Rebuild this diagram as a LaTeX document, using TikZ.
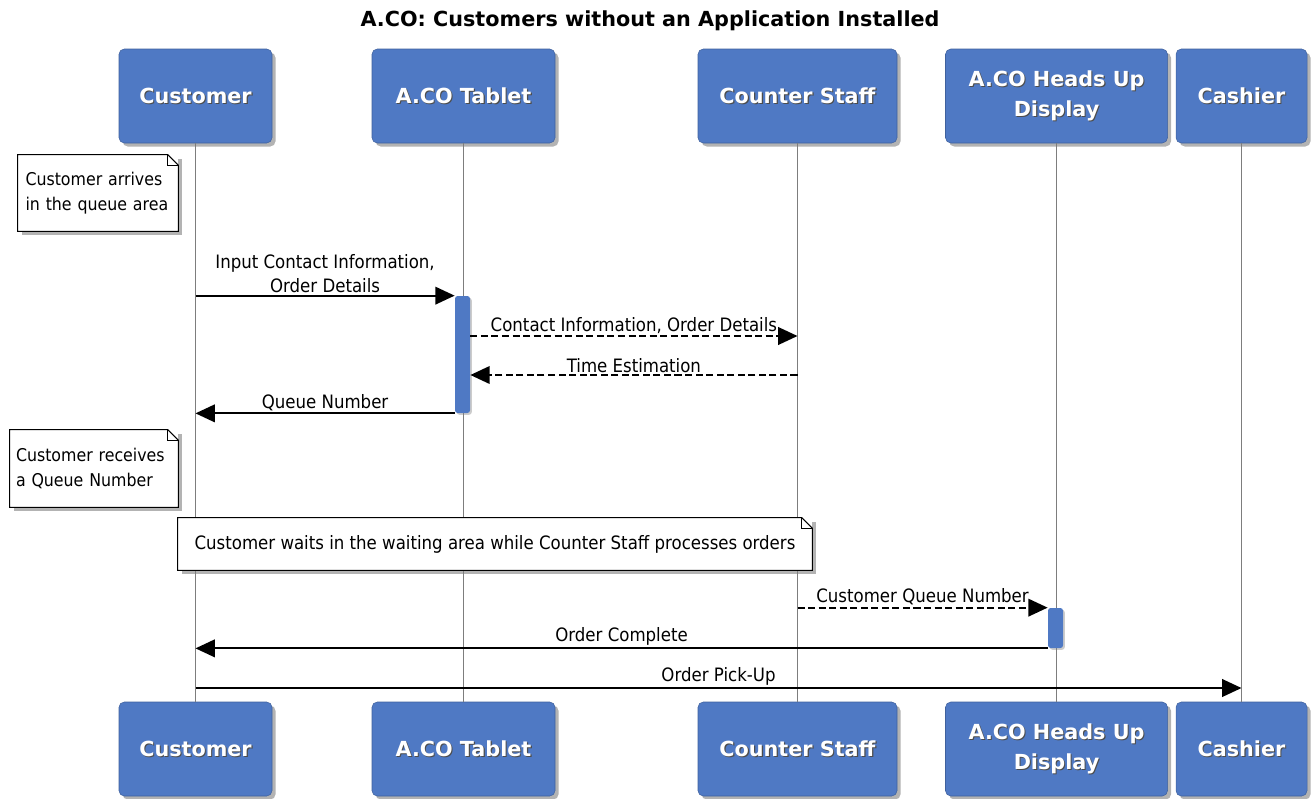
\documentclass[tikz,border=0pt]{standalone}
\usepackage{fontspec}
\setmainfont{DejaVu Sans}
\newfontfamily\labelfont{DejaVu Sans Condensed}
\usepackage{tikz}
\usetikzlibrary{positioning,arrows.meta,calc,shadows}

\definecolor{boxblue}{RGB}{79,121,196}
\definecolor{lifegray}{RGB}{125,125,125}

% white text with a dark shadow, as on the participant boxes
\newcommand{\shtxt}[1]{\makebox[0pt][l]{\raisebox{-0.6pt}{\hspace{0.6pt}\textcolor{black!70}{#1}}}\textcolor{white}{#1}}

\begin{document}
\begin{tikzpicture}[
        part/.style={rectangle, rounded corners=3pt, fill=boxblue, draw=boxblue!80!black, line width=0.3pt,
                     drop shadow={shadow xshift=2pt, shadow yshift=-2pt, opacity=0.6},
                     minimum height=1.88cm, align=center, font=\fontsize{11.8}{17}\selectfont\bfseries},
        act/.style={rectangle, rounded corners=1.5pt, fill=boxblue, minimum width=0.30cm, inner sep=0pt,
                    drop shadow={shadow xshift=1pt, shadow yshift=-1pt, opacity=0.4}},
        notebox/.style={rectangle, fill=white, inner sep=0pt, align=left,
                        drop shadow={shadow xshift=2pt, shadow yshift=-2pt, opacity=0.6},
                        font=\labelfont\fontsize{10}{14.5}\selectfont},
        life/.style={lifegray, line width=0.8pt},
        msg/.style={line width=1.1pt, -{Triangle[length=11pt, width=10pt]}},
        reply/.style={msg, dashed, dash pattern=on 4pt off 2pt},
        mlab/.style={above, inner sep=1pt, font=\labelfont\fontsize{10.5}{14}\selectfont, align=center}
    ]

    \useasboundingbox (0,0) rectangle (26.24,-15.96);

    %% ---- title ----
    \node[font=\fontsize{11.8}{13}\selectfont\bfseries] (title) at (13.00,-0.42)
          {A.CO: Customers without an Application Installed};

    %% ---- participants (top) ----
    \node[part, minimum width=3.06cm] (cu) at (3.91,-1.92) {\shtxt{Customer}};
    \node[part, minimum width=3.66cm] (tb) at (9.27,-1.92) {\shtxt{A.CO Tablet}};
    \node[part, minimum width=3.98cm] (cs) at (15.95,-1.92) {\shtxt{Counter Staff}};
    \node[part, minimum width=4.44cm] (hd) at (21.13,-1.92) {\shtxt{A.CO Heads Up}\\\shtxt{Display}};
    \node[part, minimum width=2.62cm] (ca) at (24.83,-1.92) {\shtxt{Cashier}};

    %% ---- participants (bottom) ----
    \node[part, minimum width=3.06cm] (cub) at (3.91,-14.98) {\shtxt{Customer}};
    \node[part, minimum width=3.66cm] (tbb) at (9.27,-14.98) {\shtxt{A.CO Tablet}};
    \node[part, minimum width=3.98cm] (csb) at (15.95,-14.98) {\shtxt{Counter Staff}};
    \node[part, minimum width=4.44cm] (hdb) at (21.13,-14.98) {\shtxt{A.CO Heads Up}\\\shtxt{Display}};
    \node[part, minimum width=2.62cm] (cab) at (24.83,-14.98) {\shtxt{Cashier}};

    %% ---- lifelines ----
    \draw[life] (cu.south) -- (cub.north);
    \draw[life] (tb.south) -- (tbb.north);
    \draw[life] (cs.south) -- (csb.north);
    \draw[life] (hd.south) -- (hdb.north);
    \draw[life] (ca.south) -- (cab.north);

    %% ---- notes ----
    \node[notebox, minimum width=3.20cm, minimum height=1.52cm, text width=2.90cm] (n1) at (1.96,-3.86)
          {Customer arrives\\in the queue area};
    \node[notebox, minimum width=3.36cm, minimum height=1.54cm, text width=3.12cm] (n2) at (1.88,-9.37)
          {Customer receives\\a Queue Number};
    \node[notebox, minimum width=12.68cm, minimum height=1.04cm, align=center] (n3) at (9.90,-10.88)
          {\fontsize{10.5}{12}\selectfont Customer waits in the waiting area while Counter Staff processes orders};
    \foreach \n in {n1,n2,n3} {
        \draw[line width=0.6pt] (\n.north west) -- ([xshift=-6pt]\n.north east)
            -- ([yshift=-6pt]\n.north east) -- (\n.south east) -- (\n.south west) -- cycle;
        \draw[line width=0.5pt] ([xshift=-6pt]\n.north east) |- ([yshift=-6pt]\n.north east);
    }

    %% ---- activations ----
    \node[act, minimum height=2.34cm] (ta) at (9.25,-7.09) {};
    \node[act, minimum height=0.80cm] (ha) at (21.11,-12.56) {};

    %% ---- message anchors on lifelines ----
    \coordinate (m1) at (cu |- ta.north);
    \coordinate (m2) at (cs |- 0,-6.72);
    \coordinate (m3) at (cs |- 0,-7.50);
    \coordinate (m4) at (cu |- ta.south);
    \coordinate (m5) at (cs |- ha.north);
    \coordinate (m6) at (cu |- ha.south);
    \coordinate (m7a) at (cu |- 0,-13.76);
    \coordinate (m7b) at (ca |- 0,-13.76);

    %% ---- messages ----
    \draw[msg] (m1) -- node[mlab] {Input Contact Information,\\Order Details} (ta.north west);
    \draw[reply] (ta.east |- m2) -- node[mlab] {Contact Information, Order Details} (m2);
    \draw[reply] (m3) -- node[mlab] {Time Estimation} (ta.east |- m3);
    \draw[msg] (ta.south west) -- node[mlab] {Queue Number} (m4);
    \draw[reply] (m5) -- node[mlab] {Customer Queue Number} (ha.north west);
    \draw[msg] (ha.south west) -- node[mlab] {Order Complete} (m6);
    \draw[msg] (m7a) -- node[mlab] {Order Pick-Up} (m7b);

    \end{tikzpicture}
\end{document}
